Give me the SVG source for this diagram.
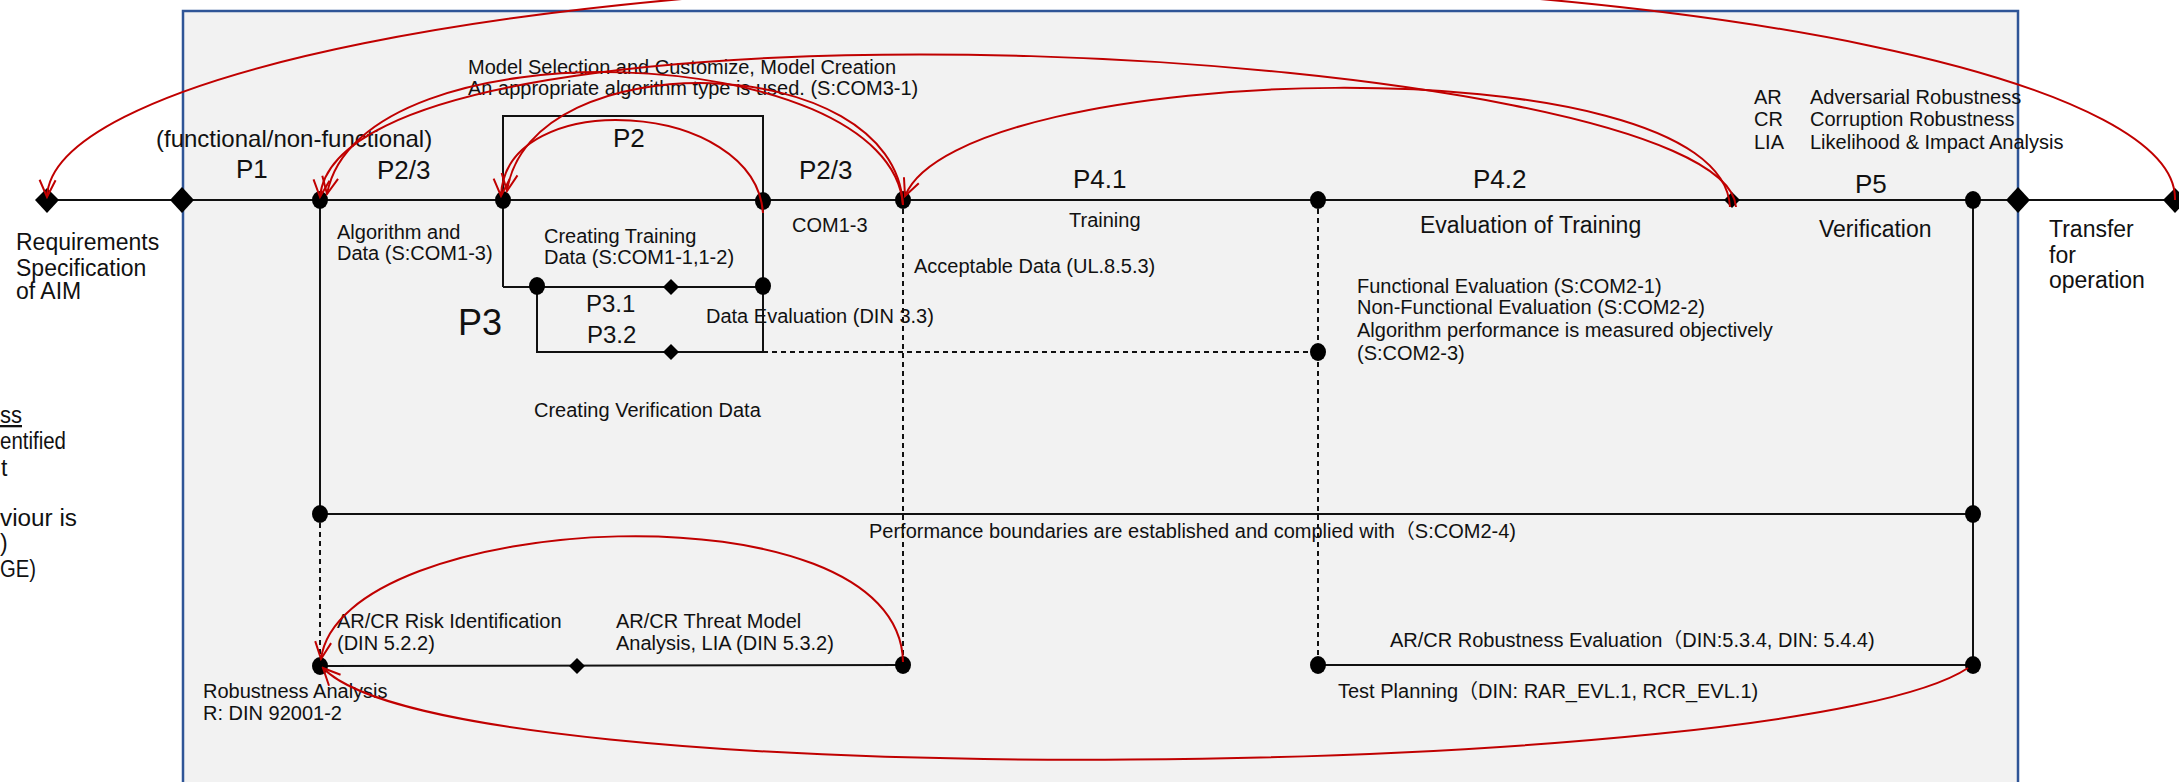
<svg xmlns="http://www.w3.org/2000/svg" width="2179" height="782" viewBox="0 0 2179 782">
  <style>
    .t { font-family: "Liberation Sans", "Noto Sans CJK JP", sans-serif; font-size: 20px; fill: #111; }
    .m { font-size: 23px; }
    .p { font-size: 26px; }
    .ln { stroke: #111; stroke-width: 2; fill: none; }
    .dash { stroke-dasharray: 5 4; }
    .red { stroke: #c00000; stroke-width: 2; fill: none; marker-end: url(#vhead); }
    .dot { fill: #000; }
  </style>
  <defs>
    <marker id="vhead" markerUnits="userSpaceOnUse" viewBox="-20 -11 22 22" markerWidth="22" markerHeight="22" refX="0" refY="0" orient="auto">
      <path d="M-17,-8 L0,0 L-17,8" fill="none" stroke="#c00000" stroke-width="2"/>
    </marker>
  </defs>

  <rect width="2179" height="782" fill="#ffffff"/>

  <!-- frame of the AI module process -->
  <rect id="frame" x="183" y="11" width="1835" height="790" fill="#f2f2f2" stroke="#2f5597" stroke-width="2.5"/>

  <!-- process lines -->
  <g id="connectors">
    <line class="ln" x1="47" y1="200" x2="2175" y2="200"/>
    <!-- P2 box -->
    <polyline class="ln" points="503,200 503,116 763,116 763,352"/>
    <line class="ln" x1="503" y1="200" x2="503" y2="287"/>
    <line class="ln" x1="503" y1="287" x2="763" y2="287"/>
    <!-- P3.2 branch -->
    <polyline class="ln" points="537,287 537,352 763,352"/>
    <line class="ln dash" x1="763" y1="352" x2="1318" y2="352"/>
    <!-- left and right verticals -->
    <line class="ln" x1="320" y1="200" x2="320" y2="514"/>
    <line class="ln dash" x1="320" y1="514" x2="320" y2="666"/>
    <line class="ln" x1="1973" y1="200" x2="1973" y2="665"/>
    <line class="ln" x1="320" y1="514" x2="1973" y2="514"/>
    <!-- dashed drops -->
    <line class="ln dash" x1="903" y1="200" x2="903" y2="665"/>
    <line class="ln dash" x1="1318" y1="200" x2="1318" y2="665"/>
    <!-- robustness lines -->
    <line class="ln" x1="320" y1="666" x2="903" y2="665"/>
    <line class="ln" x1="1318" y1="665" x2="1973" y2="665"/>
  </g>

  <!-- nodes -->
  <g id="node-req"><polygon class="dot" points="47,188 59,200 47,213 35,200"/></g>
  <g id="node-start"><polygon class="dot" points="182,187 194,200 182,213 170,200"/></g>
  <g id="node-p23a"><ellipse class="dot" cx="320" cy="200" rx="8" ry="9"/></g>
  <g id="node-p2"><ellipse class="dot" cx="503" cy="200" rx="8" ry="9"/></g>
  <g id="node-p2end"><ellipse class="dot" cx="763" cy="201" rx="8" ry="9"/></g>
  <g id="node-p41"><ellipse class="dot" cx="903" cy="200" rx="8" ry="9"/></g>
  <g id="node-p42"><ellipse class="dot" cx="1318" cy="200" rx="8" ry="9"/></g>
  <g id="node-p5"><polygon class="dot" points="1732,192 1740,200 1732,208 1724,200"/></g>
  <g id="node-ver"><ellipse class="dot" cx="1973" cy="200" rx="8" ry="9"/></g>
  <g id="node-end"><polygon class="dot" points="2018,187 2030,200 2018,213 2006,200"/></g>
  <g id="node-transfer"><polygon class="dot" points="2175,188 2187,200 2175,213 2163,200"/></g>
  <g id="node-p31a"><ellipse class="dot" cx="537" cy="286" rx="8" ry="9"/></g>
  <g id="node-p31b"><polygon class="dot" points="671,279 679,287 671,295 663,287"/></g>
  <g id="node-p31c"><ellipse class="dot" cx="763" cy="286" rx="8" ry="9"/></g>
  <g id="node-p32"><polygon class="dot" points="671,344 679,352 671,360 663,352"/></g>
  <g id="node-eval"><ellipse class="dot" cx="1318" cy="352" rx="8" ry="9"/></g>
  <g id="node-perf-l"><ellipse class="dot" cx="320" cy="514" rx="8" ry="9"/></g>
  <g id="node-perf-r"><ellipse class="dot" cx="1973" cy="514" rx="8" ry="9"/></g>
  <g id="node-rob-l"><ellipse class="dot" cx="320" cy="666" rx="8" ry="9"/></g>
  <g id="node-rob-m"><polygon class="dot" points="577,658 585,666 577,674 569,666"/></g>
  <g id="node-rob-r"><ellipse class="dot" cx="903" cy="665" rx="8" ry="9"/></g>
  <g id="node-test-l"><ellipse class="dot" cx="1318" cy="665" rx="8" ry="9"/></g>
  <g id="node-test-r"><ellipse class="dot" cx="1973" cy="665" rx="8" ry="9"/></g>

  <!-- labels -->
  <g id="labels" class="t">
    <text x="468" y="74">Model Selection and Customize, Model Creation</text>
    <text x="468" y="95">An appropriate algorithm type is used. (S:COM3-1)</text>
    <text x="156" y="147" font-size="24">(functional/non-functional)</text>
    <text class="p" x="236" y="178">P1</text>
    <text class="p" x="377" y="179">P2/3</text>
    <text class="p" x="613" y="147">P2</text>
    <text class="p" x="799" y="179">P2/3</text>
    <text class="p" x="1073" y="188">P4.1</text>
    <text class="p" x="1473" y="188">P4.2</text>
    <text class="p" x="1855" y="193">P5</text>
    <text x="458" y="335" font-size="36">P3</text>
    <text x="586" y="312" font-size="24">P3.1</text>
    <text x="587" y="343" font-size="24">P3.2</text>
    <text x="337" y="239">Algorithm and</text>
    <text x="337" y="260">Data (S:COM1-3)</text>
    <text x="544" y="243">Creating Training</text>
    <text x="544" y="264">Data (S:COM1-1,1-2)</text>
    <text x="792" y="232">COM1-3</text>
    <text x="1069" y="227">Training</text>
    <text x="914" y="273">Acceptable Data (UL.8.5.3)</text>
    <text x="706" y="323">Data Evaluation (DIN 3.3)</text>
    <text x="534" y="417">Creating Verification Data</text>
    <text class="m" x="1420" y="233">Evaluation of Training</text>
    <text class="m" x="1819" y="237">Verification</text>
    <text x="1357" y="293">Functional Evaluation (S:COM2-1)</text>
    <text x="1357" y="314">Non-Functional Evaluation (S:COM2-2)</text>
    <text x="1357" y="337">Algorithm performance is measured objectively</text>
    <text x="1357" y="360">(S:COM2-3)</text>
    <text x="1754" y="104">AR</text>
    <text x="1754" y="126">CR</text>
    <text x="1754" y="149">LIA</text>
    <text x="1810" y="104">Adversarial Robustness</text>
    <text x="1810" y="126">Corruption Robustness</text>
    <text x="1810" y="149">Likelihood &amp; Impact Analysis</text>
    <text class="m" x="2049" y="237">Transfer</text>
    <text class="m" x="2049" y="263">for</text>
    <text class="m" x="2049" y="288">operation</text>
    <text class="m" x="16" y="250">Requirements</text>
    <text class="m" x="16" y="276">Specification</text>
    <text class="m" x="16" y="299">of AIM</text>
    <!-- note column continuing from the left margin -->
    <text class="m" x="0" y="423" textLength="22" lengthAdjust="spacingAndGlyphs" text-decoration="underline">ss</text>
    <text class="m" x="0" y="449" textLength="66" lengthAdjust="spacingAndGlyphs">entified</text>
    <text class="m" x="1" y="476">t</text>
    <text class="m" x="0" y="526" textLength="77" lengthAdjust="spacingAndGlyphs">viour is</text>
    <text class="m" x="0" y="551">)</text>
    <text class="m" x="0" y="577" textLength="36" lengthAdjust="spacingAndGlyphs">GE)</text>
    <text x="869" y="538">Performance boundaries are established and complied with（S:COM2-4)</text>
    <text x="337" y="628">AR/CR Risk Identification</text>
    <text x="337" y="650">(DIN 5.2.2)</text>
    <text x="616" y="628">AR/CR Threat Model</text>
    <text x="616" y="650">Analysis, LIA (DIN 5.3.2)</text>
    <text x="203" y="698">Robustness Analysis</text>
    <text x="203" y="720">R: DIN 92001-2</text>
    <text x="1390" y="647">AR/CR Robustness Evaluation（DIN:5.3.4, DIN: 5.4.4)</text>
    <text x="1338" y="698">Test Planning（DIN: RAR_EVL.1, RCR_EVL.1)</text>
  </g>

  <!-- feedback arrows -->
  <g id="feedback">
    <path class="red" d="M2175,200 A1064,218 0 0 0 47,197"/>
    <path class="red" d="M1736,207 C1724,45 340,-30 320,197"/>
    <path class="red" d="M1730,207 C1722,40 960,60 905,196"/>
    <path class="red" d="M903,205 C890,40 360,20 327,194"/>
    <path class="red" d="M903,205 C895,50 530,40 507,191"/>
    <path class="red" d="M763,213 C755,100 505,85 501,196"/>
    <path class="red" d="M903,662 C900,480 340,510 321,659"/>
    <path class="red" d="M1968,668 C1800,780 450,800 323,668"/>
  </g>
</svg>
